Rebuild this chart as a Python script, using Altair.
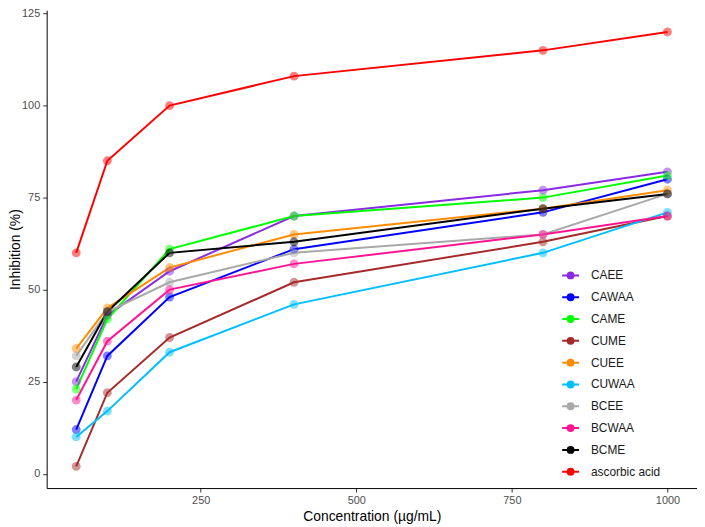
import altair as alt
import pandas as pd

concentrations = [50, 100, 200, 400, 800, 1000]
names = ["CAEE", "CAWAA", "CAME", "CUME", "CUEE", "CUWAA", "BCEE", "BCWAA", "BCME", "ascorbic acid"]
colors = ["#8A2BE2", "#0000FF", "#00FF00", "#A52A2A", "#FF8C00", "#00BFFF", "#A9A9A9", "#FF1493", "#000000", "#FF0000"]

CAEE = [25, 43, 55, 70, 77, 82]
CAWAA = [12, 32, 48, 61, 71, 80]
CAME = [23, 42, 61, 70, 75, 81]
CUME = [2, 22, 37, 52, 63, 70]
CUEE = [34, 45, 56, 65, 72, 77]
CUWAA = [10, 17, 33, 46, 60, 71]
BCEE = [32, 44, 52, 60, 65, 76]
BCWAA = [20, 36, 50, 57, 65, 70]
BCME = [29, 44, 60, 63, 72, 76]
ascorbic_acid = [60, 85, 100, 108, 115, 120]

series = [CAEE, CAWAA, CAME, CUME, CUEE, CUWAA, BCEE, BCWAA, BCME, ascorbic_acid]

y_ticks = [0, 25, 50, 75, 100, 125]
x_ticks = [250, 500, 750, 1000]

rows = []
for name, vals in zip(names, series):
    for c, v in zip(concentrations, vals):
        rows.append({"Sample": name, "Concentration": c, "Inhibition": v})
df = pd.DataFrame(rows)

x_enc = alt.X("Concentration:Q",
              scale=alt.Scale(domain=[2.5, 1047.5], nice=False, zero=False),
              axis=alt.Axis(values=x_ticks, format="d", title="Concentration (µg/mL)"))
y_enc = alt.Y("Inhibition:Q",
              scale=alt.Scale(domain=[-3.9, 125.9], nice=False, zero=False),
              axis=alt.Axis(values=y_ticks, format="d", title="Inhibition (%)", titleX=-24))

legend_path = ("M-1,0L1,0"
               "M-0.35,0A0.35,0.35,0,1,0,0.35,0A0.35,0.35,0,1,0,-0.35,0"
               "M-0.18,0A0.18,0.18,0,1,0,0.18,0A0.18,0.18,0,1,0,-0.18,0"
               "M-0.05,0A0.05,0.05,0,1,0,0.05,0A0.05,0.05,0,1,0,-0.05,0")

lines = alt.Chart(df).mark_line(strokeWidth=2).encode(
    x=x_enc,
    y=y_enc,
    color=alt.Color("Sample:N",
                    scale=alt.Scale(domain=names, range=colors),
                    sort=names,
                    legend=alt.Legend(title=None, orient="none", legendX=519, legendY=258,
                                      symbolType=legend_path, symbolSize=289,
                                      symbolStrokeWidth=2, labelFontSize=12,
                                      labelColor="#1A1A1A", rowPadding=5,
                                      labelOffset=11, padding=0)),
)

points = alt.Chart(df).mark_point(filled=True, size=80, opacity=0.5).encode(
    x=x_enc,
    y=y_enc,
    fill=alt.Fill("Sample:N", scale=alt.Scale(domain=names, range=colors), legend=None),
)

chart = alt.layer(lines, points).properties(
    width=656,
    height=482,
    autosize=alt.AutoSizeParams(type="none"),
    padding={"left": 39, "top": 0, "right": 0, "bottom": 35},
).configure(
    font="Liberation Sans",
).configure_view(
    stroke=None,
).configure_axis(
    grid=False,
    domainColor="#000000",
    domainWidth=1,
    tickColor="#333333",
    tickSize=4,
    labelPadding=3,
    labelColor="#4D4D4D",
    labelFontSize=11,
    titleFontSize=14,
    titleColor="#000000",
    titleFontWeight="normal",
    titlePadding=4,
)

chart.save("out.html", embed_options={"renderer": "svg", "actions": False})
